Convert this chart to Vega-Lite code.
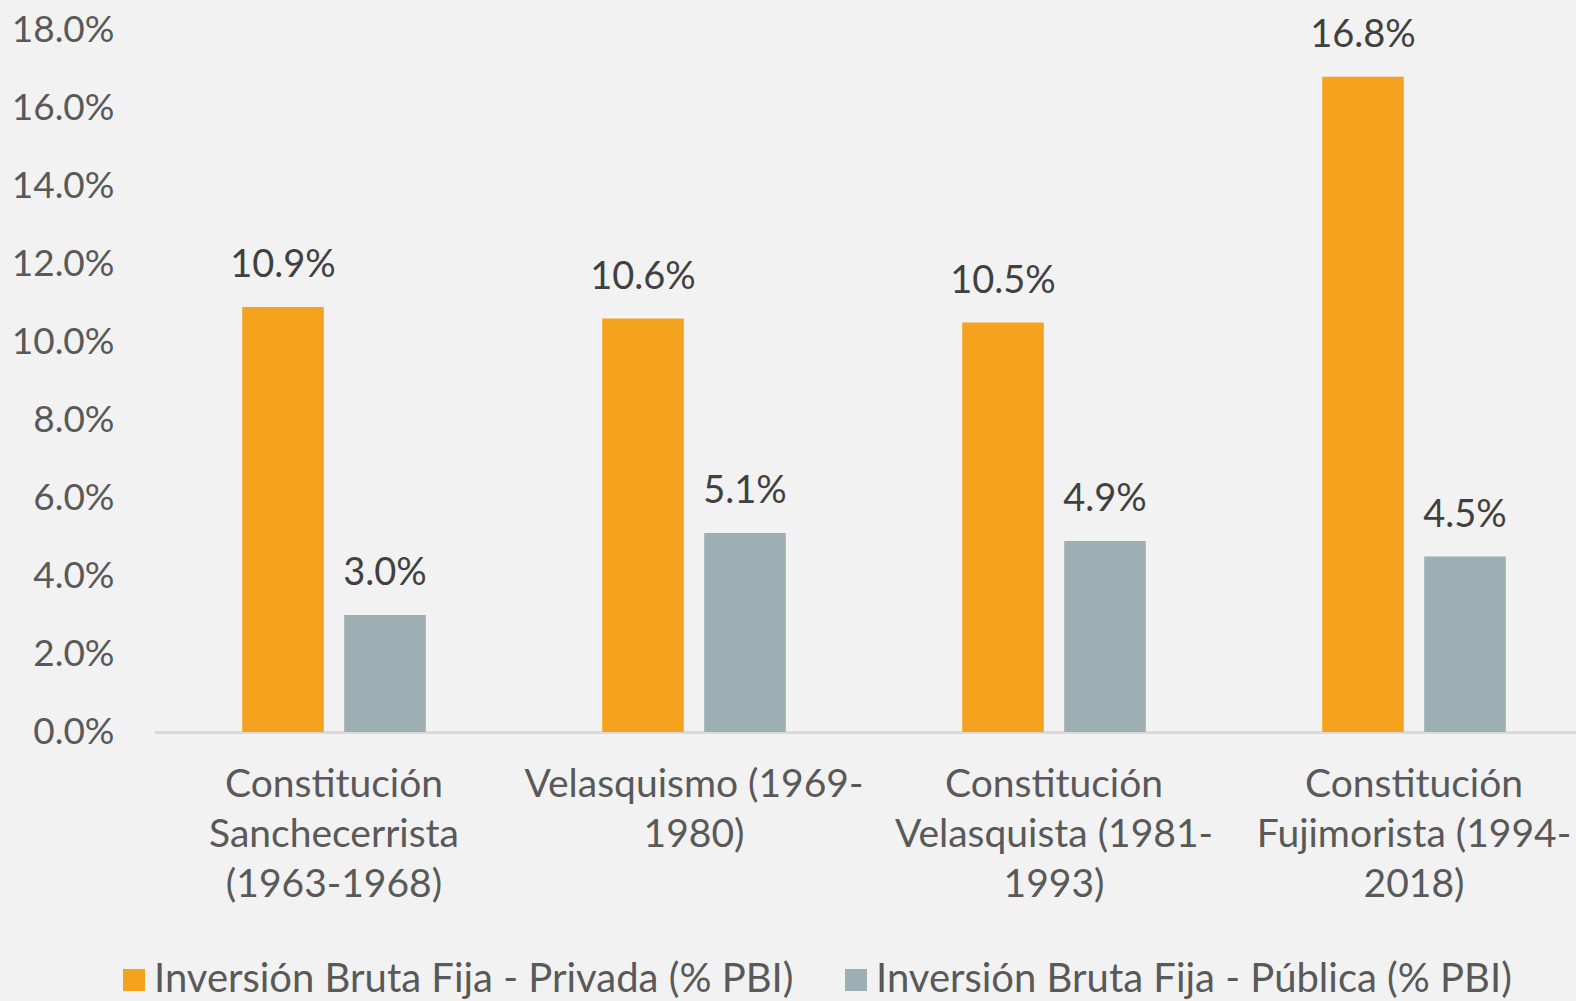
{
  "$schema": "https://vega.github.io/schema/vega-lite/v6.json",
  "width": 1422,
  "height": 702,
  "autosize": {"type": "none"},
  "padding": {"left": 154, "top": 30, "right": 0, "bottom": 269},
  "background": "#f2f2f2",
  "config": {"view": {"stroke": null}, "font": "Lato"},
  "data": {
    "values": [
      {"periodo": "Constitución|Sanchecerrista|(1963-1968)", "serie": "Inversión Bruta Fija - Privada (% PBI)", "valor": 0.109},
      {"periodo": "Constitución|Sanchecerrista|(1963-1968)", "serie": "Inversión Bruta Fija - Pública (% PBI)", "valor": 0.030},
      {"periodo": "Velasquismo (1969-|1980)", "serie": "Inversión Bruta Fija - Privada (% PBI)", "valor": 0.106},
      {"periodo": "Velasquismo (1969-|1980)", "serie": "Inversión Bruta Fija - Pública (% PBI)", "valor": 0.051},
      {"periodo": "Constitución|Velasquista (1981-|1993)", "serie": "Inversión Bruta Fija - Privada (% PBI)", "valor": 0.105},
      {"periodo": "Constitución|Velasquista (1981-|1993)", "serie": "Inversión Bruta Fija - Pública (% PBI)", "valor": 0.049},
      {"periodo": "Constitución|Fujimorista (1994-|2018)", "serie": "Inversión Bruta Fija - Privada (% PBI)", "valor": 0.168},
      {"periodo": "Constitución|Fujimorista (1994-|2018)", "serie": "Inversión Bruta Fija - Pública (% PBI)", "valor": 0.045}
    ]
  },
  "encoding": {
    "x": {
      "field": "periodo",
      "type": "nominal",
      "sort": null,
      "scale": {"range": [0, 1440], "paddingInner": 0.49, "paddingOuter": 0.245},
      "axis": {
        "title": null,
        "labelAngle": 0,
        "ticks": false,
        "domainColor": "#d9d9d9",
        "domainWidth": 3,
        "labelExpr": "split(datum.label, '|')",
        "labelFont": "Lato",
        "labelFontSize": 39,
        "labelColor": "#595959",
        "labelPadding": 33,
        "labelLineHeight": 50,
        "labelLimit": 600,
        "labelBaseline": "top"
      }
    },
    "xOffset": {
      "field": "serie",
      "type": "nominal",
      "sort": null,
      "scale": {"paddingInner": 0.2, "paddingOuter": 0}
    },
    "y": {
      "field": "valor",
      "type": "quantitative",
      "scale": {"domain": [0, 0.18], "nice": false},
      "axis": {
        "title": null,
        "domain": false,
        "ticks": false,
        "grid": false,
        "values": [0, 0.02, 0.04, 0.06, 0.08, 0.10, 0.12, 0.14, 0.16, 0.18],
        "format": ".1%",
        "labelFont": "Lato",
        "labelFontSize": 37,
        "labelColor": "#595959",
        "labelPadding": 40
      }
    }
  },
  "layer": [
    {
      "mark": {"type": "bar"},
      "encoding": {
        "color": {
          "field": "serie",
          "type": "nominal",
          "sort": null,
          "scale": {"range": ["#f5a31e", "#9eafb4"]},
          "legend": {
            "orient": "none",
            "legendX": -40,
            "legendY": 930,
            "direction": "horizontal",
            "title": null,
            "symbolType": "square",
            "symbolSize": 484,
            "symbolStrokeWidth": 0,
            "labelFont": "Lato",
            "labelFontSize": 40,
            "labelColor": "#595959",
            "labelOffset": 0,
            "labelLimit": 1000,
            "columnPadding": 42
          }
        }
      }
    },
    {
      "mark": {"type": "text", "baseline": "alphabetic", "dy": -30, "font": "Lato", "fontSize": 38, "color": "#404040"},
      "encoding": {
        "text": {"field": "valor", "type": "quantitative", "format": ".1%"}
      }
    }
  ]
}
